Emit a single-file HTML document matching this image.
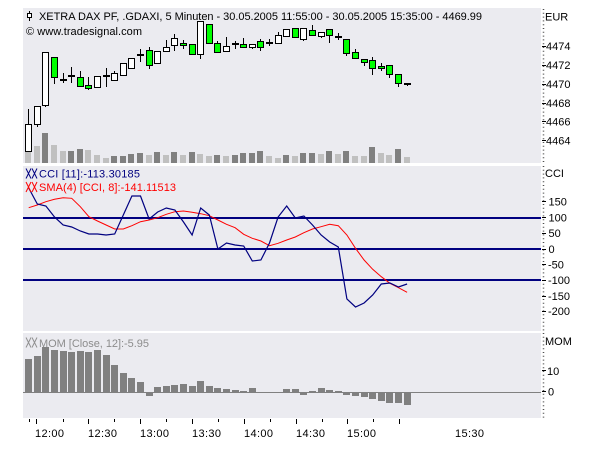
<!DOCTYPE html>
<html><head><meta charset="utf-8"><style>
html,body{margin:0;padding:0;background:#fff;}
svg{display:block;}
text{font-family:"Liberation Sans",sans-serif;font-size:11px;fill:#000;}
</style></head><body>
<svg width="600" height="450" viewBox="0 0 600 450" xmlns="http://www.w3.org/2000/svg">
<rect x="0" y="0" width="600" height="450" fill="#fff"/>
<!-- panels -->
<rect x="23" y="8" width="518" height="155" fill="#ebebf0"/>
<rect x="23" y="166" width="518" height="165" fill="#ebebf0"/>
<rect x="23" y="333" width="518" height="85" fill="#ebebf0"/>

<!-- title -->
<line x1="29.5" y1="11" x2="29.5" y2="21" stroke="#000"/>
<rect x="27.5" y="13.5" width="4" height="4" fill="#fff" stroke="#000"/>
<text x="39" y="20" textLength="443" lengthAdjust="spacing">XETRA DAX PF, .GDAXI, 5 Minuten - 30.05.2005 11:55:00 - 30.05.2005 15:35:00 - 4469.99</text>
<text x="26" y="35" textLength="116" lengthAdjust="spacing">© www.tradesignal.com</text>

<!-- volume -->
<g>
<rect x="25" y="152" width="6" height="11" fill="#c0c0c0"/>
<rect x="34" y="146" width="6" height="17" fill="#c0c0c0"/>
<rect x="42" y="133" width="6" height="30" fill="#808080"/>
<rect x="51" y="145" width="6" height="18" fill="#c0c0c0"/>
<rect x="60" y="151" width="6" height="12" fill="#c0c0c0"/>
<rect x="68" y="151" width="6" height="12" fill="#808080"/>
<rect x="77" y="149" width="6" height="14" fill="#808080"/>
<rect x="85" y="150" width="6" height="13" fill="#c0c0c0"/>
<rect x="94" y="155" width="6" height="8" fill="#c0c0c0"/>
<rect x="103" y="158" width="6" height="5" fill="#c0c0c0"/>
<rect x="111" y="156" width="6" height="7" fill="#808080"/>
<rect x="120" y="156" width="6" height="7" fill="#808080"/>
<rect x="128" y="154" width="6" height="9" fill="#808080"/>
<rect x="137" y="153" width="6" height="10" fill="#808080"/>
<rect x="146" y="155" width="6" height="8" fill="#c0c0c0"/>
<rect x="154" y="152" width="6" height="11" fill="#808080"/>
<rect x="163" y="155" width="6" height="8" fill="#c0c0c0"/>
<rect x="171" y="152" width="6" height="11" fill="#808080"/>
<rect x="180" y="155" width="6" height="8" fill="#c0c0c0"/>
<rect x="189" y="152" width="6" height="11" fill="#808080"/>
<rect x="197" y="154" width="6" height="9" fill="#c0c0c0"/>
<rect x="206" y="156" width="6" height="7" fill="#c0c0c0"/>
<rect x="214" y="155" width="6" height="8" fill="#808080"/>
<rect x="223" y="156" width="6" height="7" fill="#c0c0c0"/>
<rect x="232" y="155" width="6" height="8" fill="#808080"/>
<rect x="240" y="153" width="6" height="10" fill="#808080"/>
<rect x="249" y="153" width="6" height="10" fill="#808080"/>
<rect x="257" y="151" width="6" height="12" fill="#808080"/>
<rect x="266" y="156" width="6" height="7" fill="#c0c0c0"/>
<rect x="275" y="158" width="6" height="5" fill="#c0c0c0"/>
<rect x="283" y="155" width="6" height="8" fill="#808080"/>
<rect x="292" y="156" width="6" height="7" fill="#c0c0c0"/>
<rect x="300" y="153" width="6" height="10" fill="#808080"/>
<rect x="309" y="153" width="6" height="10" fill="#808080"/>
<rect x="318" y="154" width="6" height="9" fill="#c0c0c0"/>
<rect x="326" y="151" width="6" height="12" fill="#808080"/>
<rect x="335" y="154" width="6" height="9" fill="#c0c0c0"/>
<rect x="343" y="151" width="6" height="12" fill="#808080"/>
<rect x="352" y="156" width="6" height="7" fill="#c0c0c0"/>
<rect x="361" y="156" width="6" height="7" fill="#c0c0c0"/>
<rect x="369" y="147" width="6" height="16" fill="#808080"/>
<rect x="378" y="153" width="6" height="10" fill="#c0c0c0"/>
<rect x="386" y="155" width="6" height="8" fill="#c0c0c0"/>
<rect x="395" y="149" width="6" height="14" fill="#808080"/>
<rect x="404" y="157" width="6" height="6" fill="#c0c0c0"/>
</g>

<!-- wicks -->
<g stroke="#000" stroke-width="1">
<line x1="28.5" y1="109" x2="28.5" y2="152"/>
<line x1="37.5" y1="106" x2="37.5" y2="127"/>
<line x1="45.5" y1="52" x2="45.5" y2="107"/>
<line x1="54.5" y1="57" x2="54.5" y2="84"/>
<line x1="63.5" y1="73" x2="63.5" y2="83"/>
<line x1="71.5" y1="67" x2="71.5" y2="83"/>
<line x1="80.5" y1="71" x2="80.5" y2="86"/>
<line x1="88.5" y1="77" x2="88.5" y2="90"/>
<line x1="97.5" y1="76" x2="97.5" y2="87"/>
<line x1="106.5" y1="68" x2="106.5" y2="87"/>
<line x1="114.5" y1="71" x2="114.5" y2="80"/>
<line x1="123.5" y1="63" x2="123.5" y2="75"/>
<line x1="131.5" y1="58" x2="131.5" y2="68"/>
<line x1="140.5" y1="49" x2="140.5" y2="62"/>
<line x1="149.5" y1="47" x2="149.5" y2="69"/>
<line x1="157.5" y1="51" x2="157.5" y2="63"/>
<line x1="166.5" y1="40" x2="166.5" y2="51"/>
<line x1="174.5" y1="34" x2="174.5" y2="51"/>
<line x1="183.5" y1="40" x2="183.5" y2="49"/>
<line x1="192.5" y1="44" x2="192.5" y2="54"/>
<line x1="200.5" y1="21" x2="200.5" y2="59"/>
<line x1="209.5" y1="24" x2="209.5" y2="43"/>
<line x1="217.5" y1="41" x2="217.5" y2="52"/>
<line x1="226.5" y1="37" x2="226.5" y2="52"/>
<line x1="235.5" y1="41" x2="235.5" y2="49"/>
<line x1="243.5" y1="38" x2="243.5" y2="47"/>
<line x1="252.5" y1="44" x2="252.5" y2="49"/>
<line x1="260.5" y1="39" x2="260.5" y2="51"/>
<line x1="269.5" y1="39" x2="269.5" y2="46"/>
<line x1="278.5" y1="32" x2="278.5" y2="43"/>
<line x1="286.5" y1="29" x2="286.5" y2="36"/>
<line x1="295.5" y1="28" x2="295.5" y2="37"/>
<line x1="303.5" y1="28" x2="303.5" y2="41"/>
<line x1="312.5" y1="25" x2="312.5" y2="35"/>
<line x1="321.5" y1="32" x2="321.5" y2="38"/>
<line x1="329.5" y1="29" x2="329.5" y2="43"/>
<line x1="338.5" y1="33" x2="338.5" y2="40"/>
<line x1="346.5" y1="39" x2="346.5" y2="56"/>
<line x1="355.5" y1="49" x2="355.5" y2="58"/>
<line x1="364.5" y1="59" x2="364.5" y2="66"/>
<line x1="372.5" y1="57" x2="372.5" y2="75"/>
<line x1="381.5" y1="63" x2="381.5" y2="71"/>
<line x1="389.5" y1="65" x2="389.5" y2="78"/>
<line x1="398.5" y1="74" x2="398.5" y2="87"/>
<line x1="407.5" y1="83" x2="407.5" y2="86"/>
</g>

<!-- bodies -->
<g stroke="#000" stroke-width="1">
<rect x="25.5" y="124.5" width="6" height="27" fill="#fff"/>
<rect x="34.5" y="106.5" width="6" height="18" fill="#fff"/>
<rect x="42.5" y="52.5" width="6" height="53" fill="#fff"/>
<rect x="51.5" y="57.5" width="6" height="20" fill="#00ff00"/>
<rect x="77.5" y="77.5" width="6" height="9" fill="#00ff00"/>
<rect x="85.5" y="85.5" width="6" height="3" fill="#00ff00"/>
<rect x="94.5" y="76.5" width="6" height="11" fill="#fff"/>
<rect x="111.5" y="73.5" width="6" height="7" fill="#fff"/>
<rect x="120.5" y="63.5" width="6" height="12" fill="#fff"/>
<rect x="128.5" y="58.5" width="6" height="10" fill="#fff"/>
<rect x="146.5" y="50.5" width="6" height="15" fill="#00ff00"/>
<rect x="154.5" y="51.5" width="6" height="12" fill="#fff"/>
<rect x="163.5" y="47.5" width="6" height="4" fill="#fff"/>
<rect x="171.5" y="38.5" width="6" height="7" fill="#fff"/>
<rect x="180.5" y="43.5" width="6" height="2" fill="#00ff00"/>
<rect x="189.5" y="44.5" width="6" height="10" fill="#00ff00"/>
<rect x="197.5" y="21.5" width="6" height="33" fill="#fff"/>
<rect x="206.5" y="24.5" width="6" height="19" fill="#00ff00"/>
<rect x="214.5" y="43.5" width="6" height="9" fill="#00ff00"/>
<rect x="223.5" y="46.5" width="6" height="5" fill="#fff"/>
<rect x="240.5" y="44.5" width="6" height="3" fill="#00ff00"/>
<rect x="249.5" y="44.5" width="6" height="3" fill="#fff"/>
<rect x="257.5" y="41.5" width="6" height="6" fill="#00ff00"/>
<rect x="275.5" y="35.5" width="6" height="8" fill="#fff"/>
<rect x="283.5" y="29.5" width="6" height="7" fill="#fff"/>
<rect x="292.5" y="28.5" width="6" height="9" fill="#00ff00"/>
<rect x="300.5" y="28.5" width="6" height="11" fill="#fff"/>
<rect x="309.5" y="30.5" width="6" height="5" fill="#00ff00"/>
<rect x="318.5" y="32.5" width="6" height="4" fill="#fff"/>
<rect x="326.5" y="29.5" width="6" height="6" fill="#00ff00"/>
<rect x="343.5" y="39.5" width="6" height="14" fill="#00ff00"/>
<rect x="352.5" y="52.5" width="6" height="6" fill="#00ff00"/>
<rect x="361.5" y="59.5" width="6" height="3" fill="#00ff00"/>
<rect x="369.5" y="60.5" width="6" height="8" fill="#00ff00"/>
<rect x="378.5" y="66.5" width="6" height="2" fill="#00ff00"/>
<rect x="386.5" y="65.5" width="6" height="9" fill="#00ff00"/>
<rect x="395.5" y="74.5" width="6" height="9" fill="#00ff00"/>
</g>
<!-- doji -->
<g fill="#000">
<rect x="60" y="79" width="7" height="2"/>
<rect x="68" y="75" width="7" height="2"/>
<rect x="103" y="75" width="7" height="2"/>
<rect x="137" y="54" width="7" height="2"/>
<rect x="232" y="43" width="7" height="2"/>
<rect x="266" y="42" width="7" height="2"/>
<rect x="335" y="36" width="7" height="2"/>
<rect x="404" y="83" width="7" height="2"/>
</g>

<!-- CCI panel -->
<g stroke="#000080" stroke-width="2">
<line x1="23" y1="218" x2="541" y2="218"/>
<line x1="23" y1="249" x2="541" y2="249"/>
<line x1="23" y1="280" x2="541" y2="280"/>
</g>
<polyline fill="none" stroke="#ff0000" stroke-width="1" points="28.7,207.7 37.3,205 45.9,201.7 54.5,199.3 63.1,197.7 71.7,198.3 80.3,206.7 88.9,216.7 97.5,221 106.1,225 114.7,229 123.3,229 131.9,225.7 140.5,221.7 149.1,220 157.7,217.7 166.3,214.3 174.9,211.7 183.5,211 192.1,212.3 200.7,213.7 209.3,215.7 217.9,220 226.5,224.3 235.1,227.7 243.7,234.3 252.3,238.3 260.9,241 269.5,245.7 278.1,243.3 286.7,240 295.3,237 303.9,232.7 312.5,229 321.1,226.7 329.7,224.3 338.3,225.7 346.9,235 355.5,248.3 364.1,260 372.7,269.3 381.3,276.7 389.9,283.3 398.5,287.7 407.1,292.3"/>
<polyline fill="none" stroke="#000080" stroke-width="1.2" points="28.7,188 37.3,204 45.9,206 54.5,217 63.1,225 71.7,227 80.3,231 88.9,234 97.5,234 106.1,235 114.7,234 123.3,215 131.9,196 140.5,196 149.1,219 157.7,212 166.3,208 174.9,210 183.5,222 192.1,235 200.7,208 209.3,215 217.9,249 226.5,243 235.1,245 243.7,246 252.3,261 260.9,260 269.5,243 278.1,217 286.7,206 295.3,218 303.9,216 312.5,225 321.1,235 329.7,242 338.3,247 346.9,299 355.5,307 364.1,303 372.7,295 381.3,284 389.9,283 398.5,287 407.1,284"/>
<g stroke="#000080" stroke-width="1">
<line x1="26" y1="168.5" x2="31" y2="178.5"/><line x1="31" y1="168.5" x2="26" y2="178.5"/>
<line x1="32" y1="168.5" x2="37" y2="178.5"/><line x1="37" y1="168.5" x2="32" y2="178.5"/>
</g>
<text x="39" y="177.5" textLength="101" lengthAdjust="spacing" style="fill:#000080">CCI [11]:-113.30185</text>
<g stroke="#ff0000" stroke-width="1">
<line x1="26" y1="182" x2="31" y2="192"/><line x1="31" y1="182" x2="26" y2="192"/>
<line x1="32" y1="182" x2="37" y2="192"/><line x1="37" y1="182" x2="32" y2="192"/>
</g>
<text x="39" y="191" textLength="137" lengthAdjust="spacing" style="fill:#ff0000">SMA(4) [CCI, 8]:-141.11513</text>

<!-- MOM panel -->
<line x1="23" y1="392.5" x2="541" y2="392.5" stroke="#808080" stroke-width="1"/>
<g fill="#808080">
<rect x="25" y="359" width="7" height="34"/>
<rect x="34" y="356" width="7" height="37"/>
<rect x="42" y="347" width="7" height="46"/>
<rect x="51" y="350" width="7" height="43"/>
<rect x="60" y="351" width="7" height="42"/>
<rect x="68" y="352" width="7" height="41"/>
<rect x="77" y="351" width="7" height="42"/>
<rect x="85" y="352" width="7" height="41"/>
<rect x="94" y="350" width="7" height="43"/>
<rect x="103" y="355" width="7" height="38"/>
<rect x="111" y="365" width="7" height="28"/>
<rect x="120" y="373" width="7" height="20"/>
<rect x="128" y="378" width="7" height="15"/>
<rect x="137" y="382" width="7" height="11"/>
<rect x="146" y="392" width="7" height="4"/>
<rect x="154" y="387" width="7" height="6"/>
<rect x="163" y="386" width="7" height="7"/>
<rect x="171" y="385" width="7" height="8"/>
<rect x="180" y="384" width="7" height="9"/>
<rect x="189" y="386" width="7" height="7"/>
<rect x="197" y="381" width="7" height="12"/>
<rect x="206" y="386" width="7" height="7"/>
<rect x="214" y="388" width="7" height="5"/>
<rect x="223" y="389" width="7" height="4"/>
<rect x="232" y="390" width="7" height="3"/>
<rect x="240" y="391" width="7" height="2"/>
<rect x="249" y="388" width="7" height="5"/>
<rect x="283" y="389" width="7" height="4"/>
<rect x="292" y="389" width="7" height="4"/>
<rect x="300" y="392" width="7" height="3"/>
<rect x="309" y="391" width="7" height="2"/>
<rect x="318" y="388" width="7" height="5"/>
<rect x="326" y="390" width="7" height="3"/>
<rect x="335" y="391" width="7" height="2"/>
<rect x="343" y="392" width="7" height="3"/>
<rect x="352" y="392" width="7" height="4"/>
<rect x="361" y="392" width="7" height="5"/>
<rect x="369" y="392" width="7" height="7"/>
<rect x="378" y="392" width="7" height="9"/>
<rect x="386" y="392" width="7" height="11"/>
<rect x="395" y="392" width="7" height="11"/>
<rect x="404" y="392" width="7" height="13"/>
</g>
<g stroke="#909090" stroke-width="1">
<line x1="26" y1="337.5" x2="31" y2="347.5"/><line x1="31" y1="337.5" x2="26" y2="347.5"/>
<line x1="32" y1="337.5" x2="37" y2="347.5"/><line x1="37" y1="337.5" x2="32" y2="347.5"/>
</g>
<text x="39" y="347" textLength="110" lengthAdjust="spacing" style="fill:#8c8c8c">MOM [Close, 12]:-5.95</text>

<!-- right axis -->
<g stroke="#505050" stroke-width="1.5" stroke-dasharray="1,2.8">
<line x1="543.5" y1="9" x2="543.5" y2="163"/>
<line x1="543.5" y1="166" x2="543.5" y2="331"/>
<line x1="543.5" y1="333" x2="543.5" y2="418"/>
</g>
<g stroke="#000" stroke-width="1">
<line x1="542" y1="46.5" x2="546" y2="46.5"/>
<line x1="542" y1="65.5" x2="546" y2="65.5"/>
<line x1="542" y1="84.5" x2="546" y2="84.5"/>
<line x1="542" y1="103.5" x2="546" y2="103.5"/>
<line x1="542" y1="121.5" x2="546" y2="121.5"/>
<line x1="542" y1="140.5" x2="546" y2="140.5"/>
<line x1="542" y1="201.5" x2="546" y2="201.5"/>
<line x1="542" y1="217.5" x2="546" y2="217.5"/>
<line x1="542" y1="233.5" x2="546" y2="233.5"/>
<line x1="542" y1="249.5" x2="546" y2="249.5"/>
<line x1="542" y1="264.5" x2="546" y2="264.5"/>
<line x1="542" y1="280.5" x2="546" y2="280.5"/>
<line x1="542" y1="296.5" x2="546" y2="296.5"/>
<line x1="542" y1="311.5" x2="546" y2="311.5"/>
<line x1="542" y1="370.5" x2="546" y2="370.5"/>
<line x1="542" y1="391.5" x2="546" y2="391.5"/>
</g>
<text x="545" y="20.5">EUR</text>
<text x="546" y="50">4474</text>
<text x="546" y="69">4472</text>
<text x="546" y="88">4470</text>
<text x="546" y="107">4468</text>
<text x="546" y="125.5">4466</text>
<text x="546" y="144.5">4464</text>
<text x="545" y="177">CCI</text>
<text x="548.5" y="205.5">150</text>
<text x="548.5" y="221.5">100</text>
<text x="548.5" y="237">50</text>
<text x="548.5" y="253">0</text>
<text x="548" y="268.5">-50</text>
<text x="548" y="284">-100</text>
<text x="548" y="300">-150</text>
<text x="548" y="315">-200</text>
<text x="545" y="345">MOM</text>
<text x="547" y="375">10</text>
<text x="548" y="395.5">0</text>

<!-- time axis -->
<g stroke="#000" stroke-width="1">
<line x1="29.5" y1="419" x2="29.5" y2="422"/>
<line x1="63.5" y1="419" x2="63.5" y2="422"/>
<line x1="114.5" y1="419" x2="114.5" y2="422"/>
<line x1="166.5" y1="419" x2="166.5" y2="422"/>
<line x1="218.5" y1="419" x2="218.5" y2="422"/>
<line x1="270.5" y1="419" x2="270.5" y2="422"/>
<line x1="322.5" y1="419" x2="322.5" y2="422"/>
<line x1="373.5" y1="419" x2="373.5" y2="422"/>
<line x1="36.5" y1="419" x2="36.5" y2="424"/>
<line x1="88.5" y1="419" x2="88.5" y2="424"/>
<line x1="140.5" y1="419" x2="140.5" y2="424"/>
<line x1="192.5" y1="419" x2="192.5" y2="424"/>
<line x1="244.5" y1="419" x2="244.5" y2="424"/>
<line x1="296.5" y1="419" x2="296.5" y2="424"/>
<line x1="347.5" y1="419" x2="347.5" y2="424"/>
<line x1="399.5" y1="419" x2="399.5" y2="424"/>
</g>
<text x="35" y="437" textLength="29" lengthAdjust="spacing">12:00</text>
<text x="88" y="437" textLength="29" lengthAdjust="spacing">12:30</text>
<text x="140" y="437" textLength="29" lengthAdjust="spacing">13:00</text>
<text x="192" y="437" textLength="29" lengthAdjust="spacing">13:30</text>
<text x="244" y="437" textLength="29" lengthAdjust="spacing">14:00</text>
<text x="296" y="437" textLength="29" lengthAdjust="spacing">14:30</text>
<text x="347" y="437" textLength="29" lengthAdjust="spacing">15:00</text>
<text x="455" y="437" textLength="29" lengthAdjust="spacing">15:30</text>
</svg>
</body></html>
